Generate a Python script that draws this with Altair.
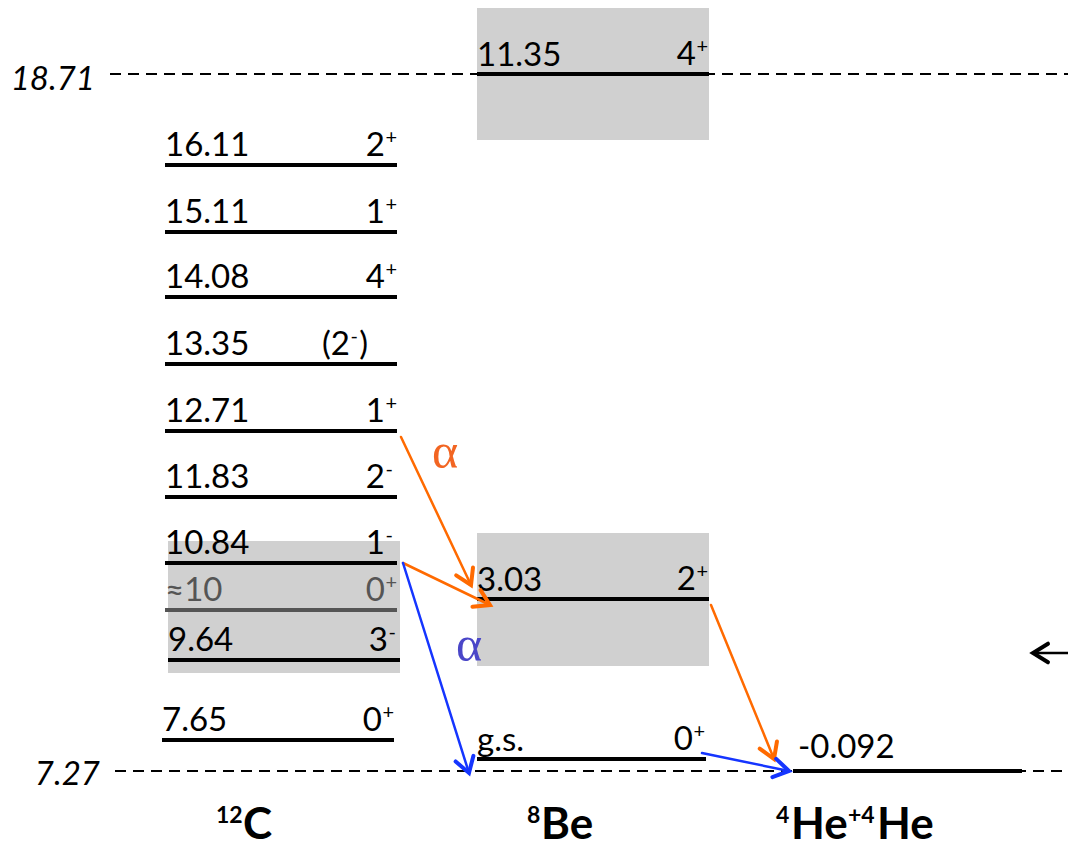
import math
import altair as alt
import pandas as pd

FONT = "Lato"
SERIF = "Liberation Serif"

# ---- 12C levels (drawn as rows of the scheme, top to bottom) ----
c_energy = ["16.11", "15.11", "14.08", "13.35", "12.71", "11.83", "10.84", "≈10", "9.64", "7.65"]
c_spin = ["2", "1", "4", "(2", "1", "2", "1", "0", "3", "0"]
c_parity = ["+", "+", "+", "-", "+", "-", "-", "+", "-", "+"]
c_tail = ["", "", "", ")", "", "", "", "", "", ""]
c_row = [165, 232, 297, 364, 431, 497, 563, 610, 660, 740]
c_left = [165, 165, 165, 165, 165, 165, 165, 165, 168, 162]
c_right = [397, 397, 397, 397, 397, 397, 397, 397, 400, 394]
c_spin_end = [397, 397, 397, 368, 397, 397, 397, 397, 400, 394]
c_color = ["#000000"] * 7 + ["#555555"] + ["#000000"] * 2

# ---- 8Be levels ----
be_energy = ["11.35", "3.03", "g.s."]
be_spin = ["4", "2", "0"]
be_parity = ["+", "+", "+"]
be_row = [74, 599, 759]
be_left = [477, 477, 477]
be_right = [709, 709, 706]

# ---- 4He + 4He threshold ----
he_energy = ["-0.092"]
he_row = [771]
he_left = [793]
he_right = [1022]

# ---- thresholds (dashed) ----
thr_label = ["18.71", "7.27"]
thr_row = [74, 771]
thr_start = [110, 115]
thr_label_x = [95, 100]
thr_label_base = [90, 785]

# ---- shaded resonance widths ----
box_x1 = [477, 477, 168]
box_x2 = [709, 709, 400]
box_y1 = [8, 533, 541]
box_y2 = [140, 666, 673]

# ---- alpha-decay arrows (tail -> head) ----
arr_x1 = [401, 403, 711, 403, 702, 1068]
arr_y1 = [437, 563, 605, 563, 753, 653]
arr_x2 = [471, 490, 774, 469, 789, 1033]
arr_y2 = [585, 605, 759, 773, 771, 653]
arr_color = ["#ff6a00", "#ff6a00", "#ff6a00", "#1535ff", "#1535ff", "#000000"]
arr_width = [2.5, 2.5, 2.5, 2.5, 2.5, 2.5]

X = alt.Scale(domain=[0, 1068], nice=False, zero=False)
Y = alt.Scale(domain=[850, 0], nice=False, zero=False)


def xy(**extra):
    enc = dict(
        x=alt.X("x:Q", scale=X, axis=None),
        y=alt.Y("y:Q", scale=Y, axis=None),
    )
    enc.update(extra)
    return enc


layers = []

# dashed thresholds
thr_df = pd.DataFrame({"x": thr_start, "x2": [1068, 1068], "y": thr_row})
layers.append(
    alt.Chart(thr_df).mark_rule(color="black", strokeWidth=2, strokeDash=[11, 7])
    .encode(**xy(x2="x2:Q"))
)
thr_txt = pd.DataFrame({"x": thr_label_x, "y": thr_label_base, "t": thr_label})
layers.append(
    alt.Chart(thr_txt).mark_text(font=FONT, fontSize=33, fontStyle="italic", align="right",
                                 baseline="alphabetic", color="black")
    .encode(**xy(text="t:N"))
)

# shaded boxes
box_df = pd.DataFrame({"x": box_x1, "x2": box_x2, "y": box_y1, "y2": box_y2})
layers.append(
    alt.Chart(box_df).mark_rect(color="#d0d0d0").encode(**xy(x2="x2:Q", y2="y2:Q"))
)

# level lines
lv = pd.DataFrame({
    "x": c_left + be_left + he_left,
    "x2": c_right + be_right + he_right,
    "y": c_row + be_row + he_row,
    "c": c_color + ["#000000"] * 4,
})
layers.append(
    alt.Chart(lv).mark_rule(strokeWidth=4)
    .encode(**xy(x2="x2:Q", color=alt.Color("c:N", scale=None)))
)

# energy labels
en = pd.DataFrame({
    "x": c_left + be_left + [798],
    "y": [r - 9 for r in c_row] + [r - 8 for r in be_row] + [r - 13 for r in he_row],
    "t": c_energy + be_energy + he_energy,
    "c": c_color + ["#000000"] * 4,
})
layers.append(
    alt.Chart(en).mark_text(font=FONT, fontSize=33, align="left", baseline="alphabetic")
    .encode(**xy(text="t:N", color=alt.Color("c:N", scale=None)))
)

# spin-parity labels: spin (normal), parity (superscript), closing bracket
sp_end = c_spin_end + [r - 1 for r in be_right]
sp_rows = c_row + be_row
sp_tail = c_tail + [""] * 3
sp_col = c_color + ["#000000"] * 3
sup_x = [e - (12 if t == "" else 18) for e, t in zip(sp_end, sp_tail)]
spin_df = pd.DataFrame({
    "x": sup_x, "y": [r - 9 for r in sp_rows], "t": c_spin + be_spin, "c": sp_col,
})
layers.append(
    alt.Chart(spin_df).mark_text(font=FONT, fontSize=33, align="right", baseline="alphabetic")
    .encode(**xy(text="t:N", color=alt.Color("c:N", scale=None)))
)
par_df = pd.DataFrame({
    "x": [s + 0.5 for s in sup_x], "y": [r - 21 for r in sp_rows],
    "t": c_parity + be_parity, "c": sp_col,
})
layers.append(
    alt.Chart(par_df).mark_text(font=FONT, fontSize=20, align="left", baseline="alphabetic")
    .encode(**xy(text="t:N", color=alt.Color("c:N", scale=None)))
)
tail_df = pd.DataFrame({
    "x": [e for e, t in zip(sp_end, sp_tail) if t],
    "y": [r - 9 for r, t in zip(sp_rows, sp_tail) if t],
    "t": [t for t in sp_tail if t],
})
layers.append(
    alt.Chart(tail_df).mark_text(font=FONT, fontSize=33, align="right", baseline="alphabetic",
                                 color="black")
    .encode(**xy(text="t:N"))
)

# arrows: shafts and chevron heads
ad = pd.DataFrame({"x": arr_x1, "y": arr_y1, "x2": arr_x2, "y2": arr_y2,
                   "c": arr_color, "w": arr_width})
ad["ang"] = [
    math.degrees(math.atan2(b2 - b1, a2 - a1)) % 360
    for a1, b1, a2, b2 in zip(arr_x1, arr_y1, arr_x2, arr_y2)
]
layers.append(
    alt.Chart(ad).mark_rule(strokeCap="round")
    .encode(**xy(x2="x2:Q", y2="y2:Q", color=alt.Color("c:N", scale=None),
                 strokeWidth=alt.StrokeWidth("w:Q", scale=None)))
)
head = "M-1,-0.62L0,0L-1,0.62"
layers.append(
    alt.Chart(ad).mark_point(shape=head, size=900, filled=False, strokeWidth=4,
                             strokeCap="round", strokeJoin="miter", opacity=1)
    .encode(
        x=alt.X("x2:Q", scale=X, axis=None),
        y=alt.Y("y2:Q", scale=Y, axis=None),
        color=alt.Color("c:N", scale=None),
        angle=alt.Angle("ang:Q", scale=None),
    )
)

# alpha symbols
al = pd.DataFrame({"x": [432, 456], "y": [468, 661], "t": ["α", "α"],
                   "c": ["#f26522", "#4a46c8"]})
layers.append(
    alt.Chart(al).mark_text(font=SERIF, fontSize=50, align="left", baseline="alphabetic")
    .encode(**xy(text="t:N", color=alt.Color("c:N", scale=None)))
)

# nucleus names with superscript mass numbers
nuc_base_t = ["C", "Be", "He", "He"]
nuc_base_x = [243, 541, 791, 877]
nuc_sup_t = ["12", "8", "4", "+4"]
nuc_sup_x = [216, 527, 776, 848]
nb = pd.DataFrame({"x": nuc_base_x, "y": [839] * 4, "t": nuc_base_t})
layers.append(
    alt.Chart(nb).mark_text(font=FONT, fontSize=44, fontWeight="bold", align="left",
                            baseline="alphabetic", color="black")
    .encode(**xy(text="t:N"))
)
ns = pd.DataFrame({"x": nuc_sup_x, "y": [823] * 4, "t": nuc_sup_t})
layers.append(
    alt.Chart(ns).mark_text(font=FONT, fontSize=23, fontWeight="bold", align="left",
                            baseline="alphabetic", color="black")
    .encode(**xy(text="t:N"))
)

chart = (
    alt.layer(*layers)
    .properties(width=1068, height=850, padding=0, autosize="none", background="white")
    .configure_view(stroke=None)
)

chart.save("out.html", embed_options={"renderer": "svg", "actions": False})
